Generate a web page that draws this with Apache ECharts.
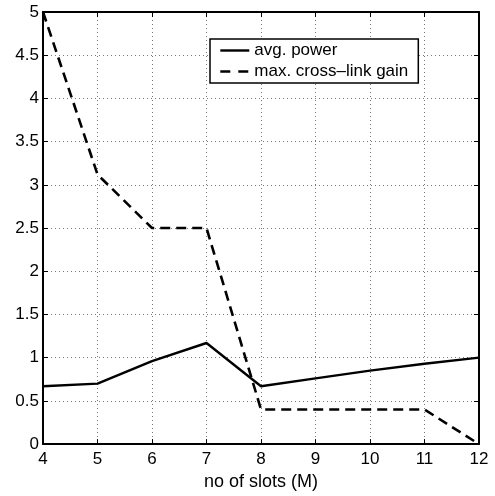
<!DOCTYPE html>
<html>
<head>
<meta charset="utf-8">
<script src="https://cdn.jsdelivr.net/npm/echarts@6/dist/echarts.min.js"></script>
<style>html,body{margin:0;padding:0;background:#fff;}#c{width:495px;height:496px;}</style>
</head>
<body>
<div id="c"></div>
<script>
const slots = [4, 5, 6, 7, 8, 9, 10, 11, 12];
const avgPower = [0.67, 0.70, 0.96, 1.17, 0.67, 0.76, 0.85, 0.93, 1.0];
const maxCrossLinkGain = [5.0, 3.12, 2.5, 2.5, 0.4, 0.4, 0.4, 0.4, 0.0];
const seriesNames = ['avg. power', 'max. cross\u2013link gain'];
const xName = 'no of slots (M)';

const font = '"Liberation Sans", Arial, Helvetica, sans-serif';
const chart = echarts.init(document.getElementById('c'), null, {renderer: 'canvas'});
const boxAxis = {
  axisLine: {show: true, onZero: false, lineStyle: {color: '#000', width: 2}},
  axisTick: {show: true, inside: true, length: 5, lineStyle: {color: '#000', width: 1}},
  axisLabel: {show: false},
  splitLine: {show: false}
};
chart.setOption({
  animation: false,
  backgroundColor: '#fff',
  grid: {left: 43, right: 16, top: 12, bottom: 48},
  legend: {
    orient: 'vertical',
    left: 210, top: 39,
    padding: [3, 10, 3, 9],
    backgroundColor: '#fff',
    borderColor: '#000', borderWidth: 1.5, borderRadius: 0,
    itemWidth: 29, itemHeight: 14, itemGap: 4, itemTextGap: 10,
    itemStyle: {color: 'rgba(0,0,0,0)', borderWidth: 0, opacity: 0},
    textStyle: {fontFamily: font, fontSize: 17, color: '#000', lineHeight: 17},
    data: [
      {name: seriesNames[0], lineStyle: {type: 'solid', width: 2.4, color: '#000'}},
      {name: seriesNames[1], lineStyle: {type: [10, 8], width: 2.6, color: '#000'}}
    ]
  },
  xAxis: [
    {
      type: 'value', min: 4, max: 12, interval: 1, position: 'bottom',
      name: xName, nameLocation: 'middle', nameGap: 25,
      nameTextStyle: {fontFamily: font, fontSize: 18, color: '#000'},
      axisLine: {show: true, onZero: false, lineStyle: {color: '#000', width: 2}},
      axisTick: {show: true, inside: true, length: 5, lineStyle: {color: '#000', width: 1}},
      axisLabel: {fontFamily: font, fontSize: 17, color: '#000', margin: 7},
      splitLine: {show: true, lineStyle: {color: '#777', type: [1, 3], width: 1}}
    },
    Object.assign({type: 'value', min: 4, max: 12, interval: 1, position: 'top'}, boxAxis)
  ],
  yAxis: [
    {
      type: 'value', min: 0, max: 5, interval: 0.5, position: 'left',
      axisLine: {show: true, onZero: false, lineStyle: {color: '#000', width: 2}},
      axisTick: {show: true, inside: true, length: 5, lineStyle: {color: '#000', width: 1}},
      axisLabel: {fontFamily: font, fontSize: 17, color: '#000', margin: 4},
      splitLine: {show: true, lineStyle: {color: '#777', type: [1, 3], width: 1}}
    },
    Object.assign({type: 'value', min: 0, max: 5, interval: 0.5, position: 'right'}, boxAxis)
  ],
  series: [
    {
      name: seriesNames[0], type: 'line', symbol: 'none',
      data: slots.map((s, i) => [s, avgPower[i]]),
      lineStyle: {color: '#000', width: 2.4, type: 'solid'},
      itemStyle: {color: '#000'}
    },
    {
      name: seriesNames[1], type: 'line', symbol: 'none',
      data: slots.map((s, i) => [s, maxCrossLinkGain[i]]),
      lineStyle: {color: '#000', width: 2.6, type: [10, 6]},
      itemStyle: {color: '#000'}
    }
  ]
});
</script>
</body>
</html>
